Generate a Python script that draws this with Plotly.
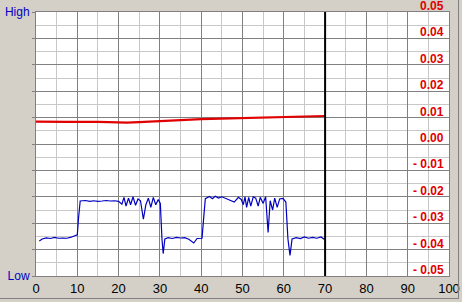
import plotly.graph_objects as go

# Blue signal (relative level, Low=0 .. High=100)
blue_x = [0.8, 1.5, 2.5, 3.5, 4.5, 5.5, 6.5, 7.5, 8.5, 9.5, 10.0, 10.3, 10.7,
          12, 13, 14, 15, 16, 17, 18, 19, 20, 20.8, 21.3, 21.8, 22.4, 22.9,
          23.5, 24.1, 24.7, 25.3, 26.0, 26.6, 27.2, 27.8, 28.4, 29.0, 29.6,
          30.1, 30.5, 30.8, 31.2, 32, 33, 34, 35, 36, 37, 38.2, 39, 40.2,
          40.6, 41, 42, 42.7, 43.4, 44.2, 45, 46, 47, 48, 49, 49.7, 50.2,
          50.6, 51.0, 51.5, 52, 52.6, 53.2, 53.8, 54.3, 55.0, 55.6, 56.2,
          56.7, 57.3, 57.8, 58.4, 59, 59.8, 60.5, 61.0, 61.5, 62.0, 63, 64,
          65, 66, 67, 68, 69, 69.7, 70]
blue_y = [13.3, 14.0, 14.4, 14.2, 14.6, 14.3, 14.4, 14.3, 14.7, 15.5, 15.6,
          22, 28.4, 28.6, 28.3, 28.5, 28.3, 28.4, 28.6, 28.4, 28.5, 28.3,
          27.2, 29.8, 26.5, 29.5, 27.0, 30.0, 26.8, 29.2, 28.5, 21.5, 27.0,
          29.5, 26.0, 29.8, 27.0, 29.0, 27.5, 14, 8.5, 14.0, 14.5, 14.2,
          14.6, 14.4, 14.5, 13.9, 12.5, 14.2, 14.3, 22, 29.3, 30.1, 29.3,
          30.2, 29.5, 30.0, 29.4, 28.6, 28.0, 29.8, 29.0, 27.0, 30.0, 26.0,
          29.8, 26.5, 30.0, 29.5, 26.5, 29.8, 27.5, 30.0, 16.5, 28.5, 25.0,
          29.5, 26.0, 29.2, 29.4, 28, 14, 7.8, 14.0, 14.5, 14.2, 14.8, 14.3,
          14.6, 14.3, 14.8, 14.0, 14.4]

# Red signal (right axis)
red_x = [0, 2.5, 5, 7.5, 10, 12.5, 15, 17.5, 20, 22, 25, 27.5, 30, 32.5,
         35, 37.5, 40, 42.5, 45, 47.5, 50, 52.5, 55, 57.5, 60, 62.5, 65,
         67.5, 70]
red_y = [0.0085, 0.0084, 0.0085, 0.0084, 0.0084, 0.0085, 0.0084, 0.0083,
         0.0082, 0.0081, 0.0083, 0.0085, 0.0088, 0.0090, 0.0091, 0.0093,
         0.0094, 0.0095, 0.0096, 0.0098, 0.0099, 0.0100, 0.0101, 0.0102,
         0.0103, 0.0104, 0.0104, 0.0105, 0.0106]

x_ticks = [0, 10, 20, 30, 40, 50, 60, 70, 80, 90, 100]
right_vals = [0.05, 0.04, 0.03, 0.02, 0.01, 0.00, -0.01, -0.02, -0.03, -0.04, -0.05]
right_text = ["0.05", "0.04", "0.03", "0.02", "0.01", "0.00",
              "- 0.01", "- 0.02", "- 0.03", "- 0.04", "- 0.05"]
cursor_x = 70

L, R, T, B = 36, 449, 12, 276
W, H = 462, 302

fig = go.Figure()
fig.add_trace(go.Scatter(x=red_x, y=red_y, yaxis="y2", mode="lines",
                         line=dict(color="#e00000", width=2.2), hoverinfo="skip"))
fig.add_trace(go.Scatter(x=blue_x, y=blue_y, mode="lines",
                         line=dict(color="#0000c0", width=1.2), hoverinfo="skip"))

grid_major = "#808080"
grid_minor = "#c8c8c8"

fig.update_layout(
    width=W, height=H,
    margin=dict(l=L, r=W - R, t=T, b=H - B, pad=0, autoexpand=False),
    paper_bgcolor="#d4d0c8", plot_bgcolor="#ffffff",
    showlegend=False,
    font=dict(family="Liberation Sans, Arial, sans-serif", size=12, color="#000000"),
    xaxis=dict(range=[0, 100], tickvals=x_ticks, ticktext=[str(v) for v in x_ticks],
               showgrid=True, gridcolor=grid_major, gridwidth=1,
               minor=dict(dtick=5, tick0=0, showgrid=True, gridcolor=grid_minor, gridwidth=1),
               showline=True, linecolor=grid_major, linewidth=1, mirror=True,
               zeroline=False, ticks="", ticklen=0, automargin=False,
               tickfont=dict(size=13, family="Liberation Sans Narrow, Liberation Sans, Arial"),
               fixedrange=True),
    yaxis=dict(range=[0, 100], tickvals=list(range(0, 101, 10)),
               ticktext=["Low"] + [""] * 9 + ["High"],
               showgrid=True, gridcolor=grid_major, gridwidth=1,
               minor=dict(dtick=5, tick0=0, showgrid=True, gridcolor=grid_minor, gridwidth=1),
               showline=True, linecolor=grid_major, linewidth=1, mirror=True,
               zeroline=False, ticks="outside", ticklen=3, tickcolor=grid_major,
               automargin=False,
               tickfont=dict(color="#0000c0", size=12), fixedrange=True),
    yaxis2=dict(range=[-0.05, 0.05], overlaying="y", side="right", automargin=False,
                showgrid=False, showticklabels=False, zeroline=False, fixedrange=True),
)

for v, t in zip(right_vals, right_text):
    fig.add_annotation(x=1, xref="paper", y=v, yref="y2", text="<b>%s</b>" % t,
                       showarrow=False, xanchor="right", yanchor="middle",
                       xshift=-3, yshift=6,
                       font=dict(color="#e00000", size=12,
                                 family="Liberation Sans Narrow, Liberation Sans, Arial"))

fig.add_shape(type="line", x0=cursor_x, x1=cursor_x, xref="x", y0=0, y1=1, yref="paper",
              line=dict(color="#000000", width=2))

# window frame
pw, ph = R - L, B - T
fx = lambda px: (px - L) / pw
fy = lambda py: (B - py) / ph
fig.add_shape(type="line", xref="paper", yref="paper", x0=fx(458.5), x1=fx(458.5),
              y0=fy(0), y1=fy(299), line=dict(color="#808080", width=1))
fig.add_shape(type="line", xref="paper", yref="paper", x0=fx(0), x1=fx(459),
              y0=fy(298.5), y1=fy(298.5), line=dict(color="#808080", width=1))

fig.write_html("out.html")
